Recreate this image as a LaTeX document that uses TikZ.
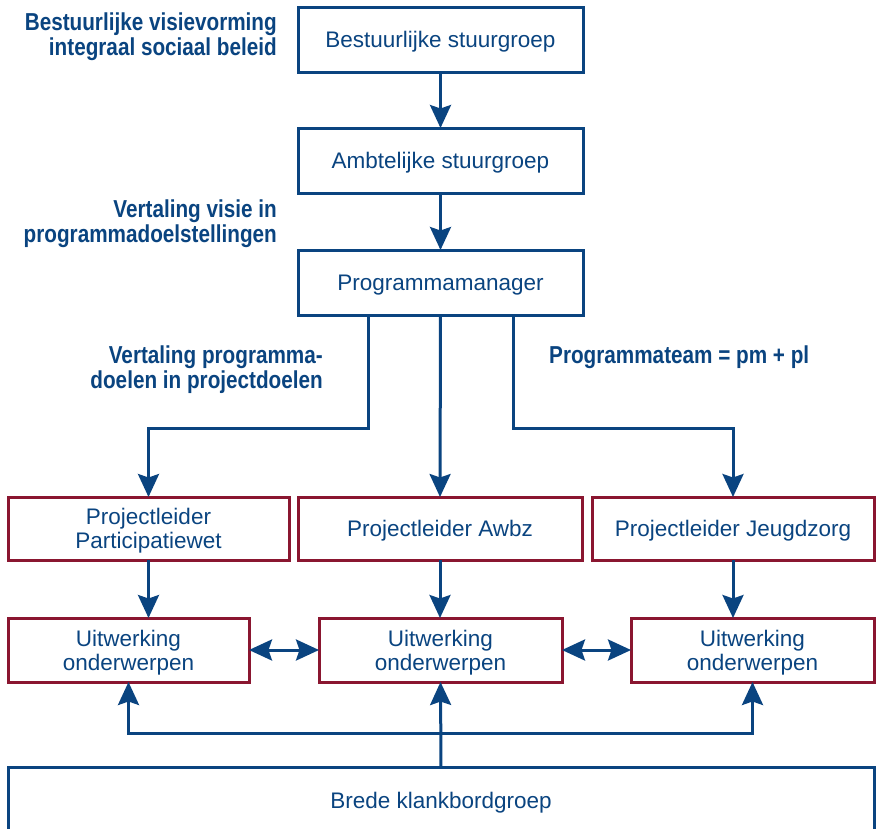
\documentclass[tikz,border=0pt]{standalone}
\usepackage{fontspec}
\setmainfont{Liberation Sans}
\newfontfamily\lblfont{Liberation Sans}[FakeStretch=0.845]
\usetikzlibrary{arrows.meta}
\definecolor{dblue}{RGB}{10,68,128}
\definecolor{dred}{RGB}{138,22,48}
\begin{document}
\begin{tikzpicture}[x=1pt,y=-1pt,
  box/.style={draw=dblue, line width=3pt, fill=white, text=dblue,
    font=\fontsize{22.5}{24}\selectfont, align=center, inner sep=0pt, outer sep=0pt, text depth=0pt},
  rbox/.style={box, draw=dred},
  lbl/.style={text=dblue, font=\lblfont\bfseries\fontsize{24.5}{25}\selectfont, inner sep=0pt},
  tip/.tip={Stealth[length=23pt,width=21pt,inset=3.5pt]},
  arr/.style={draw=dblue, line width=3pt, -tip},
  darr/.style={draw=dblue, line width=3pt, tip-tip},
  sarr/.style={draw=dblue, line width=3pt, -tip}
]
\clip (0,0) rectangle (878,828);
\fill[white] (0,0) rectangle (878,828);

\node[box, minimum width=285, minimum height=65] (B1) at (440.5,39.5) {Bestuurlijke stuurgroep};
\node[box, minimum width=285, minimum height=65] (B2) at (440.5,160.5) {Ambtelijke stuurgroep};
\node[box, minimum width=285, minimum height=65] (B3) at (440.5,282.5) {Programmamanager};

\node[rbox, minimum width=281, minimum height=63] (P1) at (148.5,528.5) {Projectleider\\Participatiewet};
\node[rbox, minimum width=284, minimum height=63] (P2) at (440,528.5) {Projectleider Awbz};
\node[rbox, minimum width=282, minimum height=63] (P3) at (733,528.5) {Projectleider Jeugdzorg};

\node[rbox, minimum width=241, minimum height=64] (U1) at (128.5,650) {Uitwerking\\onderwerpen};
\node[rbox, minimum width=243, minimum height=64] (U2) at (440.5,650) {Uitwerking\\onderwerpen};
\node[rbox, minimum width=243, minimum height=64] (U3) at (752.5,650) {Uitwerking\\onderwerpen};

\node[box, minimum width=866, minimum height=66] (BR) at (441,800) {Brede klankbordgroep};

\node[lbl, anchor=east, align=right] (L1) at (277,37) {Bestuurlijke visievorming\\integraal sociaal beleid};
\node[lbl, anchor=east, align=right] (L2) at (277,223.5) {Vertaling visie in\\programmadoelstellingen};
\node[lbl, anchor=east, align=right] (L3) at (323,370) {Vertaling programma-\\doelen in projectdoelen};
\node[lbl, anchor=west] (L4) at (549,357) {Programmateam = pm + pl};

\draw[arr] (B1.south) -- (B2.north);
\draw[arr] (B2.south) -- (B3.north);
\draw[arr] ([xshift=-72pt]B3.south) -- ++(0,113) -| (P1.north);
\draw[arr] (B3.south) -- (P2.north);
\draw[arr] ([xshift=73pt]B3.south) -- ++(0,113) -| (P3.north);

\draw[arr] (P1.south) -- (P1.south |- U1.north);
\draw[arr] (P2.south) -- (P2.south |- U2.north);
\draw[arr] (P3.south) -- (P3.south |- U3.north);

\draw[darr] (U1.east) -- (U2.west);
\draw[darr] (U2.east) -- (U3.west);

\draw[sarr] (BR.north) -- (U2.south);
\draw[sarr] ([yshift=34pt]BR.north) -| (U1.south);
\draw[sarr] ([yshift=34pt]BR.north) -| (U3.south);
\end{tikzpicture}
\end{document}
